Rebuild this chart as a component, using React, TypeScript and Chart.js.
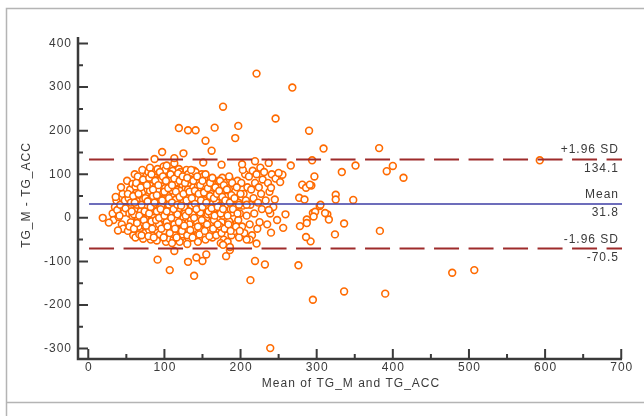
import React, { useEffect, useRef } from 'react';
import { Chart, registerables } from 'chart.js';

Chart.register(...registerables);

// Bland-Altman limits
const limitValues = [134.1, 31.8, -70.5];
const limitNames = ['+1.96 SD', 'Mean', '-1.96 SD'];
const limitLabels = ['134.1', '31.8', '-70.5'];

// Axis ticks
const xTickLabels = [0, 100, 200, 300, 400, 500, 600, 700];
const xMinorTicks = [50, 150, 250, 350, 450, 550, 650];
const yTickLabels = [-300, -200, -100, 0, 100, 200, 300, 400];
const yMinorTicks = [-250, -150, -50, 50, 150, 250, 350];

const xTitle = 'Mean of TG_M and TG_ACC';
const yTitle = 'TG_M - TG_ACC';

// Dense cluster of points [mean, difference]
const clusterPoints: [number, number][] = [
  [32, 10], [35, 25], [37, 40], [33, -5], [38, 18], [36, 48], [40, 2],
  [42, 30], [44, -15], [45, 55], [47, 12], [48, 40], [43, 70], [46, -25], [49, 22], [41, 5],
  [51, 85], [52, -30], [53, 45], [54, 10], [55, 65], [56, -10], [57, 28], [58, 78], [59, -40], [52, 55], [56, 35], [54, -20], [58, 5],
  [61, 100], [62, -45], [63, 20], [64, 60], [65, -5], [66, 88], [67, 40], [68, -30], [69, 15], [62, 72], [64, 30], [66, -20], [68, 52], [60, 8], [65, 95], [67, -38],
  [71, 110], [72, -48], [73, 35], [74, 70], [75, 0], [76, 95], [77, 50], [78, -25], [79, 22], [71, 60], [73, -12], [75, 82], [77, 12], [79, 105], [72, 42], [74, -35], [76, 28], [78, 65],
  [81, 115], [82, -50], [83, 40], [84, 75], [85, 5], [86, 98], [87, 55], [88, -20], [89, 25], [81, 62], [83, -8], [85, 88], [87, 15], [89, 108], [82, 45], [84, -40], [86, 30], [88, 70], [80, -28], [85, 50],
  [91, 112], [92, -45], [93, 38], [94, 80], [95, -2], [96, 100], [97, 58], [98, -30], [99, 18], [91, 65], [93, -15], [95, 90], [97, 10], [99, 118], [92, 48], [94, -38], [96, 28], [98, 72], [90, -52], [95, 42], [93, 85],
  [101, 110], [102, -55], [103, 35], [104, 78], [105, 2], [106, 95], [107, 55], [108, -25], [109, 20], [101, 68], [103, -10], [105, 88], [107, 12], [109, 105], [102, 45], [104, -42], [106, 30], [108, 62], [100, -30], [105, 50], [103, 120], [107, -48],
  [111, 108], [112, -50], [113, 38], [114, 80], [115, -5], [116, 98], [117, 58], [118, -28], [119, 22], [111, 70], [113, -15], [115, 92], [117, 8], [119, 112], [112, 48], [114, -40], [116, 28], [118, 65], [110, -58], [115, 42], [113, 125],
  [121, 105], [122, -45], [123, 35], [124, 75], [125, 0], [126, 100], [127, 52], [128, -30], [129, 15], [121, 62], [123, -12], [125, 85], [127, 10], [129, 110], [122, 45], [124, -38], [126, 25], [128, 68], [120, -55], [125, 40],
  [131, 100], [132, -48], [133, 38], [134, 78], [135, -5], [136, 95], [137, 55], [138, -25], [139, 20], [131, 65], [133, -15], [135, 88], [137, 8], [139, 108], [132, 45], [134, -40], [136, 28], [138, 70], [130, -60],
  [141, 105], [142, -42], [143, 35], [144, 72], [145, 2], [146, 92], [147, 50], [148, -28], [149, 18], [141, 60], [143, -10], [145, 82], [147, 12], [149, 100], [142, 42], [144, -55], [146, 25], [148, 65],
  [151, 95], [152, -40], [153, 30], [154, 70], [155, 0], [156, 88], [157, 48], [158, -22], [159, 15], [151, 58], [153, -12], [155, 78], [157, 8], [152, 40], [154, -50], [156, 25], [158, 62],
  [161, 90], [162, -35], [163, 32], [164, 65], [165, -5], [166, 82], [167, 45], [168, -20], [169, 12], [161, 55], [163, -45], [165, 75], [167, 22], [162, 8], [168, 38],
  [171, 85], [172, -30], [173, 28], [174, 60], [175, -10], [176, 92], [177, 40], [178, -50], [179, 15], [171, 50], [173, -20], [175, 72], [177, 5], [179, 35], [174, -58],
  [181, 80], [182, -25], [183, 30], [184, 55], [185, -8], [186, 88], [187, 42], [188, -40], [189, 12], [181, 48], [183, -55], [185, 68], [187, 20],
  [191, 75], [192, -30], [193, 25], [194, 50], [195, -12], [196, 85], [197, 35], [198, -45], [199, 10], [193, 60], [197, -5],
  [201, 80], [202, -20], [203, 28], [204, 55], [205, -35], [206, 100], [207, 40], [208, 5], [209, 70], [203, 110],
  [211, 95], [212, -15], [213, 30], [214, 65], [215, -40], [216, 108], [217, 45], [218, 10], [219, 80], [212, -50],
  [221, 100], [222, -25], [223, 35], [224, 70], [225, -10], [226, 115], [227, 55], [228, 20], [229, 88],
  [231, 105], [233, 40], [235, -15], [236, 80], [238, 60], [239, 10],
  [241, 100], [243, 25], [246, 90], [248, -5],
];

// Second layer of the dense core [mean, difference]
const corePoints: [number, number][] = [
  [57, 15], [59, 50], [60, -25], [61, 35], [63, 80], [64, -12], [66, 55], [67, 5], [69, 70], [70, -40], [70, 30],
  [72, 88], [73, -5], [74, 15], [75, 45], [76, -18], [77, 75], [78, 38], [79, -42], [80, 92], [80, 10],
  [82, 25], [83, 100], [84, -25], [85, 65], [86, -45], [87, 35], [88, 85], [89, -5], [90, 52], [90, 15],
  [92, 75], [93, 0], [94, 105], [95, 20], [96, -25], [97, 40], [98, 95], [99, -45], [100, 60], [100, 5],
  [102, 85], [103, 15], [104, -20], [105, 68], [106, 45], [107, -35], [108, 100], [109, 0], [110, 35], [110, 75],
  [112, 20], [113, 90], [114, -25], [115, 60], [116, -45], [117, 30], [118, 102], [119, -10], [120, 48], [120, 85],
  [122, 28], [123, -30], [124, 95], [125, 55], [126, -18], [127, 80], [128, 5], [129, 40], [130, -40], [130, 92],
  [132, 15], [133, 60], [134, -28], [135, 110], [136, 45], [137, -45], [138, 85], [139, 0], [140, 32], [140, 62],
  [142, 20], [143, 95], [144, -20], [145, 55], [146, -38], [147, 75], [148, 40], [149, -5], [150, 85], [150, 25],
  [152, 58], [153, -30], [154, 100], [155, 35], [156, -15], [157, 68], [158, 15], [159, -42], [160, 50], [160, 80],
  [162, 22], [163, 92], [164, -25], [165, 45], [166, 5], [167, 70], [168, -40], [169, 55], [170, 25], [170, -15],
  [172, 62], [173, 85], [174, 10], [175, -35], [176, 48], [177, 20], [178, 75], [179, -25], [180, 40],
  [182, 65], [183, 5], [184, -15], [185, 95], [186, 35], [187, -30], [188, 52], [189, 80], [190, 20],
  [192, 45], [194, -20], [195, 70], [196, 10], [198, 30], [199, -30], [200, 55],
];

// Scattered points outside the dense cluster [mean, difference]
const spreadPoints: [number, number][] = [
  [221, 331], [268, 299], [177, 255], [246, 228], [290, 200], [197, 211], [193, 183], [166, 207],
  [119, 206], [131, 201], [141, 201], [154, 177], [162, 154], [97, 151], [125, 148], [113, 137],
  [87, 135], [309, 159], [382, 160], [593, 132], [351, 120], [333, 105], [400, 119], [392, 107],
  [414, 92], [297, 95], [294, 132], [266, 120], [325, 53], [325, 42], [348, 41], [304, 27],
  [314, 8], [316, -4], [336, -13], [324, -38], [383, -30], [292, -54], [286, -44], [276, -109],
  [232, -107], [219, -99], [213, -143], [139, -133], [107, -120], [91, -96], [131, -101], [150, -99],
  [142, -91], [155, -84], [478, -126], [507, -120], [336, -169], [390, -174], [295, -188], [239, -299],
  [19, 0], [27, -11], [39, -29], [113, -76], [181, -88], [186, -74], [221, -59], [208, -50],
  [240, -34], [256, -23], [278, -19], [287, -4], [295, 11], [259, 8], [277, 46], [284, 42],
  [281, 76], [286, 69], [293, 74], [252, 82], [255, 99], [250, 103], [237, 126], [219, 130],
  [202, 123], [175, 122], [151, 127], [240, 69], [245, 42], [237, 18], [208, 30],
  [298, 14], [296, 3], [311, 11], [305, 30], [287, -12], [291, 76], [177, -62], [186, -67],
];

const TEXT_COLOR = '#3a3a3a';
const AXIS_COLOR = '#3a3a3a';
const FONT = '12px "Liberation Sans", Arial, sans-serif';

const decorPlugin = {
  id: 'decor',
  beforeDraw(chart: any) {
    const ctx = chart.ctx as CanvasRenderingContext2D;
    ctx.save();
    ctx.fillStyle = '#ffffff';
    ctx.fillRect(0, 0, chart.width, chart.height);
    ctx.strokeStyle = '#b4b4b4';
    ctx.lineWidth = 1.5;
    ctx.beginPath();
    ctx.moveTo(6.5, chart.height);
    ctx.lineTo(6.5, 8.5);
    ctx.lineTo(chart.width, 8.5);
    ctx.moveTo(6.5, 402.5);
    ctx.lineTo(chart.width, 402.5);
    ctx.stroke();
    ctx.restore();
  },
  afterDraw(chart: any) {
    const ctx = chart.ctx as CanvasRenderingContext2D;
    const xs = chart.scales.x;
    const ys = chart.scales.y;
    const { left, right, top, bottom } = chart.chartArea;
    ctx.save();
    // axis lines
    ctx.strokeStyle = AXIS_COLOR;
    ctx.lineWidth = 2.5;
    ctx.beginPath();
    ctx.moveTo(left, top);
    ctx.lineTo(left, bottom);
    ctx.lineTo(right, bottom);
    ctx.stroke();
    // ticks
    ctx.lineWidth = 2;
    ctx.beginPath();
    for (const v of yTickLabels) {
      const y = ys.getPixelForValue(v);
      ctx.moveTo(left, y);
      ctx.lineTo(left + 10, y);
    }
    for (const v of yMinorTicks) {
      const y = ys.getPixelForValue(v);
      ctx.moveTo(left, y);
      ctx.lineTo(left + 5, y);
    }
    for (const v of xTickLabels) {
      const x = xs.getPixelForValue(v);
      ctx.moveTo(x, bottom);
      ctx.lineTo(x, bottom - 10);
    }
    for (const v of xMinorTicks) {
      const x = xs.getPixelForValue(v);
      ctx.moveTo(x, bottom);
      ctx.lineTo(x, bottom - 5);
    }
    ctx.stroke();

    // labels
    ctx.fillStyle = TEXT_COLOR;
    ctx.font = FONT;
    (ctx as any).letterSpacing = '1px';
    ctx.textAlign = 'right';
    ctx.textBaseline = 'middle';
    for (const v of yTickLabels) {
      ctx.fillText(String(v), left - 6, ys.getPixelForValue(v));
    }
    ctx.textAlign = 'center';
    for (const v of xTickLabels) {
      ctx.fillText(String(v), xs.getPixelForValue(v) + 0.5, bottom + 9);
    }
    ctx.fillText(xTitle, (left + right) / 2 + 1, bottom + 25);

    ctx.save();
    ctx.translate(27, 195);
    ctx.rotate(-Math.PI / 2);
    ctx.fillText(yTitle, 0, 0);
    ctx.restore();

    // limit labels
    ctx.textAlign = 'right';
    limitValues.forEach((v, i) => {
      const y = ys.getPixelForValue(v);
      ctx.textBaseline = 'alphabetic';
      ctx.fillText(limitNames[i], right - 3, y - 6);
      ctx.textBaseline = 'top';
      ctx.fillText(limitLabels[i], right - 3, y + 3);
    });
    ctx.restore();
  },
};

export default function App() {
  const canvasRef = useRef<HTMLCanvasElement | null>(null);

  useEffect(() => {
    if (!canvasRef.current) return;
    const allPoints = [...clusterPoints, ...corePoints, ...spreadPoints].map(([x, y]) => ({ x, y }));
    const lineColors = ['#9e2b2b', '#3c3ca4', '#9e2b2b'];
    const lineDatasets = limitValues.map((v, i) => ({
      type: 'line' as const,
      label: limitNames[i],
      data: [
        { x: 1, y: v },
        { x: 701, y: v },
      ],
      borderColor: lineColors[i],
      borderWidth: i === 1 ? 1.5 : 2,
      borderDash: i === 1 ? [] : [25, 9.5],
      pointRadius: 0,
      showLine: true,
      fill: false,
      order: 0,
    }));
    const chart = new Chart(canvasRef.current, {
      type: 'scatter',
      data: {
        datasets: [
          ...lineDatasets,
          {
            type: 'scatter' as const,
            label: 'Differences',
            data: allPoints,
            pointStyle: 'circle',
            pointRadius: 3.4,
            pointBorderWidth: 1.6,
            pointBackgroundColor: '#ffffff',
            pointBorderColor: '#ff6a00',
            order: 1,
          },
        ] as any,
      },
      options: {
        animation: false,
        responsive: false,
        maintainAspectRatio: false,
        devicePixelRatio: 1,
        layout: { padding: { left: 78, right: 22, top: 37, bottom: 57 } },
        plugins: {
          legend: { display: false },
          tooltip: { enabled: false },
        },
        scales: {
          x: { type: 'linear', display: false, min: -13.5, max: 701 },
          y: { type: 'linear', display: false, min: -324, max: 415 },
        },
      },
      plugins: [decorPlugin],
    });
    return () => chart.destroy();
  }, []);

  return (
    <div style={{ position: 'fixed', left: 0, top: 0, width: 644, height: 416, background: '#fff' }}>
      <canvas ref={canvasRef} width={644} height={416} style={{ display: 'block', width: 644, height: 416 }} />
    </div>
  );
}
